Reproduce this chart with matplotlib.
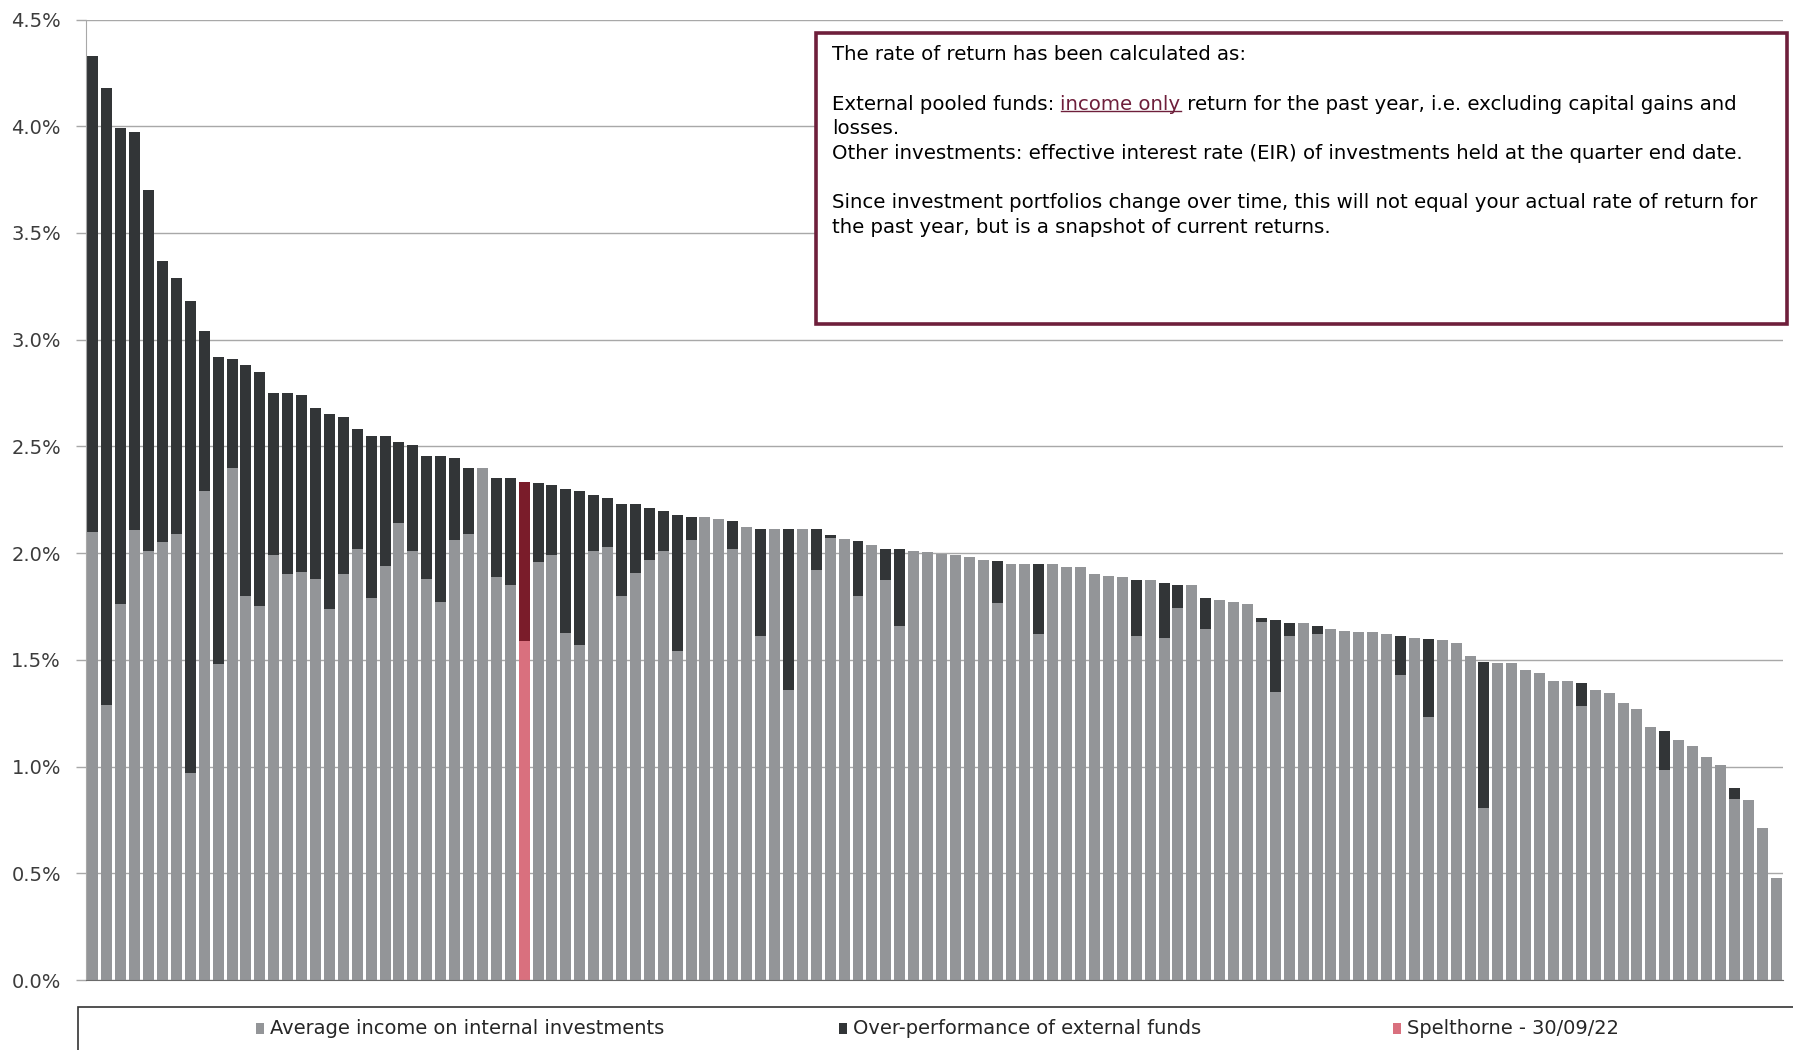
import matplotlib
matplotlib.use("Agg")
import matplotlib.pyplot as plt
from matplotlib.patches import Rectangle
import numpy as np

# ---------------- data ----------------
internal = [2.10, 1.29, 1.76, 2.11, 2.01, 2.05, 2.09, 0.97, 2.29, 1.48,
            2.40, 1.80, 1.75, 1.99, 1.90, 1.91, 1.88, 1.74, 1.90, 2.02,
            1.79, 1.94, 2.14, 2.01, 1.88, 1.77, 2.06, 2.09, 2.40, 1.89,
            1.85, 1.59, 1.96, 1.99, 1.625, 1.57, 2.01, 2.03, 1.80, 1.905,
            1.97, 2.01, 1.54, 2.06, 2.17, 2.16, 2.02, 2.12, 1.61, 2.115,
            1.36, 2.115, 1.92, 2.073, 2.064, 1.80, 2.04, 1.873, 1.66, 2.01,
            2.004, 1.995, 1.99, 1.983, 1.97, 1.766, 1.95, 1.95, 1.62, 1.947,
            1.935, 1.935, 1.90, 1.894, 1.888, 1.613, 1.876, 1.60, 1.745, 1.852,
            1.643, 1.78, 1.77, 1.763, 1.679, 1.348, 1.613, 1.673, 1.62, 1.643,
            1.637, 1.631, 1.631, 1.62, 1.43, 1.604, 1.232, 1.593, 1.58, 1.52,
            0.808, 1.486, 1.486, 1.453, 1.438, 1.40, 1.40, 1.283, 1.357, 1.345,
            1.30, 1.268, 1.184, 0.984, 1.124, 1.095, 1.044, 1.005, 0.847, 0.841,
            0.71, 0.477]
over_perf = [2.23, 2.89, 2.23, 1.865, 1.69, 1.32, 1.20, 2.21, 0.75, 1.44,
             0.51, 1.08, 1.10, 0.76, 0.85, 0.83, 0.80, 0.91, 0.74, 0.56,
             0.76, 0.61, 0.38, 0.495, 0.575, 0.685, 0.385, 0.31, 0.0, 0.46,
             0.50, 0.745, 0.37, 0.33, 0.675, 0.72, 0.26, 0.23, 0.43, 0.325,
             0.24, 0.185, 0.64, 0.11, 0.0, 0.0, 0.13, 0.0, 0.505, 0.0,
             0.755, 0.0, 0.195, 0.012, 0.0, 0.258, 0.0, 0.147, 0.36, 0.0,
             0.0, 0.0, 0.0, 0.0, 0.0, 0.199, 0.0, 0.0, 0.327, 0.0,
             0.0, 0.0, 0.0, 0.0, 0.0, 0.263, 0.0, 0.261, 0.107, 0.0,
             0.147, 0.0, 0.0, 0.0, 0.018, 0.337, 0.06, 0.0, 0.04, 0.0,
             0.0, 0.0, 0.0, 0.0, 0.18, 0.0, 0.366, 0.0, 0.0, 0.0,
             0.681, 0.0, 0.0, 0.0, 0.0, 0.0, 0.0, 0.107, 0.0, 0.0,
             0.0, 0.0, 0.0, 0.182, 0.0, 0.0, 0.0, 0.0, 0.053, 0.004,
             0.0, 0.0]
highlight_index = 31  # Spelthorne
series_labels = ["Average income on internal investments",
                 "Over-performance of external funds",
                 "Spelthorne - 30/09/22"]
y_ticks = [0.0, 0.5, 1.0, 1.5, 2.0, 2.5, 3.0, 3.5, 4.0, 4.5]

note_lines = [
    "The rate of return has been calculated as:",
    "",
    ("External pooled funds: ", "income only", " return for the past year, i.e. excluding capital gains and"),
    "losses.",
    "Other investments: effective interest rate (EIR) of investments held at the quarter end date.",
    "",
    "Since investment portfolios change over time, this will not equal your actual rate of return for",
    "the past year, but is a snapshot of current returns.",
]

# ---------------- style ----------------
C_INT = "#939598"
C_OVER = "#323537"
C_SP_LOW = "#d9707e"
C_SP_HIGH = "#7a1c2a"
C_BOX = "#6e1f3b"
C_GRID = "#a8a8a8"

W, H = 1793, 1050
fig = plt.figure(figsize=(W / 100, H / 100), dpi=100)
ax = fig.add_axes([86 / W, 1 - 980 / H, (1783 - 86) / W, (980 - 19.5) / H])

x = np.arange(len(internal))
internal_a = np.array(internal)
over_a = np.array(over_perf)
low_colors = [C_INT] * len(x)
high_colors = [C_OVER] * len(x)
low_colors[highlight_index] = C_SP_LOW
high_colors[highlight_index] = C_SP_HIGH

ax.bar(x, internal_a, width=0.79, color=low_colors, zorder=2)
ax.bar(x, over_a, bottom=internal_a, width=0.79, color=high_colors, zorder=2)

ax.set_xlim(-0.5, len(x) - 0.5)
ax.set_ylim(0, 4.5)
ax.set_yticks(y_ticks)
ax.set_yticklabels([f"{v:.1f}%" for v in y_ticks])
ax.set_xticks([])
ax.yaxis.grid(True, color=C_GRID, lw=1.0)
ax.set_axisbelow(True)
ax.tick_params(axis="y", length=7, width=1, color=C_GRID, pad=11,
               labelsize=14, labelcolor="#3c3c3c")
for s in ["top", "right"]:
    ax.spines[s].set_visible(False)
ax.spines["left"].set_color(C_GRID)
ax.spines["bottom"].set_color("#6a6a6a")

# ---------------- note box ----------------
bx0, by0, bx1, by1 = 816, 33, 1787, 324
fig.patches.append(Rectangle((bx0 / W, 1 - by1 / H), (bx1 - bx0) / W, (by1 - by0) / H,
                             transform=fig.transFigure, facecolor="white",
                             edgecolor=C_BOX, lw=2.6, zorder=5))

fig.canvas.draw()
renderer = fig.canvas.get_renderer()
probe = fig.text(0, 0, "".join(note_lines[2]), fontsize=12)
pw = probe.get_window_extent(renderer).width
probe.remove()
fs = 12 * 902 / pw

line_y = [54, None, 104.5, 128.5, 153.5, None, 202.5, 227.5]
tx = 832
for ln, yy in zip(note_lines, line_y):
    if yy is None:
        continue
    yf = 1 - yy / H
    if isinstance(ln, tuple):
        t1 = fig.text(tx / W, yf, ln[0], fontsize=fs, va="center", ha="left", color="black", zorder=6)
        ext1 = t1.get_window_extent(renderer)
        t2 = fig.text(ext1.x1 / W, yf, ln[1], fontsize=fs, va="center", ha="left", color=C_BOX, zorder=6)
        ext2 = t2.get_window_extent(renderer)
        fig.text(ext2.x1 / W, yf, ln[2], fontsize=fs, va="center", ha="left", color="black", zorder=6)
        uy = (ext2.y0 + 3) / H
        fig.add_artist(plt.Line2D([ext2.x0 / W, ext2.x1 / W], [uy, uy], transform=fig.transFigure,
                                  color=C_BOX, lw=1.0, zorder=6))
    else:
        fig.text(tx / W, yf, ln, fontsize=fs, va="center", ha="left", color="black", zorder=6)

# ---------------- legend box ----------------
fig.patches.append(Rectangle((78 / W, -0.02), 1.0, (1050 - 1007) / H + 0.02,
                             transform=fig.transFigure, facecolor="white",
                             edgecolor="#333333", lw=1.2, zorder=5))
probe = fig.text(0, 0, series_labels[0], fontsize=12)
lw_ = probe.get_window_extent(renderer).width
probe.remove()
lfs = 12 * 392 / lw_

leg_y = 1 - 1028 / H
leg_items = [(260, C_INT), (843, C_OVER), (1397, C_SP_LOW)]
for (mx, col), lab in zip(leg_items, series_labels):
    fig.patches.append(Rectangle(((mx - 4) / W, leg_y - 5.5 / H), 8 / W, 11 / H,
                                 transform=fig.transFigure, facecolor=col, edgecolor="none", zorder=6))
    fig.text((mx + 10) / W, leg_y, lab, fontsize=lfs,
             va="center", ha="left", color="#262626", zorder=6)

fig.savefig("out.png", dpi=100, facecolor="white")
